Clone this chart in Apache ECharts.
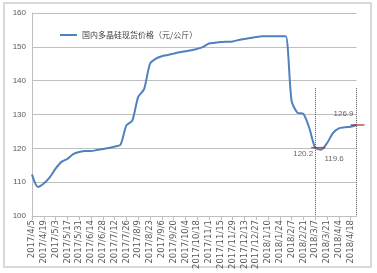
<!DOCTYPE html>
<html><head><meta charset="utf-8">
<script src="https://cdn.jsdelivr.net/npm/echarts@6/dist/echarts.min.js"></script>
<style>html,body{margin:0;padding:0;background:#fff}#c{width:377px;height:273px}</style>
</head><body><div id="c"></div>
<script>
// weekly dates 2017/4/5 .. 2018/4/25
const categories = ['2017/4/5','2017/4/12','2017/4/19','2017/4/26','2017/5/3','2017/5/10','2017/5/17','2017/5/24','2017/5/31','2017/6/7','2017/6/14','2017/6/21','2017/6/28','2017/7/5','2017/7/12','2017/7/19','2017/7/26','2017/8/2','2017/8/9','2017/8/16','2017/8/23','2017/8/30','2017/9/6','2017/9/13','2017/9/20','2017/9/27','2017/10/4','2017/10/11','2017/10/18','2017/10/25','2017/11/1','2017/11/8','2017/11/15','2017/11/22','2017/11/29','2017/12/6','2017/12/13','2017/12/20','2017/12/27','2018/1/3','2018/1/10','2018/1/17','2018/1/24','2018/1/31','2018/2/7','2018/2/14','2018/2/21','2018/2/28','2018/3/7','2018/3/14','2018/3/21','2018/3/28','2018/4/4','2018/4/11','2018/4/18','2018/4/25'];
const seriesName = '国内多晶硅现货价格（元/公斤）';
const prices = [112.3,108.6,109.6,111.4,114.0,116.0,116.9,118.3,118.9,119.2,119.2,119.5,119.8,120.1,120.5,121.1,126.8,128.2,135.2,137.5,145.0,146.5,147.2,147.6,148.0,148.4,148.7,149.0,149.4,150.0,151.0,151.2,151.4,151.5,151.6,152.0,152.3,152.6,152.9,153.1,153.1,153.1,153.1,153.1,134.0,130.5,130.2,126.0,120.2,119.6,121.5,124.5,125.9,126.2,126.4,126.9];
const yTicks = [100,110,120,130,140,150,160];
// annotations
const markCats = ['2018/3/7','2018/4/25'];
const markVals = [120.2,126.9];
const labelCats = ['2018/3/7','2018/3/14','2018/4/25'];
const labelVals = [120.2,119.6,126.9];
const dropTop = 137.8;

const numFont = 'Liberation Sans, Arial, sans-serif';
const chart = echarts.init(document.getElementById('c'), null, {renderer:'canvas'});
const labelOffsets = [[-12,6],[13,9],[-13,-11]];
const markOffsets = [[3,0],[1,0]];
chart.setOption({
  animation:false,
  backgroundColor:'#fff',
  graphic:[{type:'rect',shape:{x:4,y:3,width:367,height:264},style:{fill:'none',stroke:'#d9d9d9',lineWidth:2},z:-1}],
  grid:{left:32,right:20.5,top:13,bottom:57,outerBoundsMode:'none',containLabel:false},
  legend:{left:55,top:26,itemWidth:17,itemHeight:2,itemGap:2,icon:'rect',
    textStyle:{fontSize:8,color:'#404040',fontFamily:'Noto Sans CJK SC'},data:[seriesName]},
  xAxis:{type:'category',data:categories,boundaryGap:false,
    axisLine:{lineStyle:{color:'#bfbfbf'}},
    axisTick:{show:true,interval:1,length:4,lineStyle:{color:'#bfbfbf'}},
    axisLabel:{interval:1,rotate:90,fontSize:8.5,color:'#595959',margin:4,fontFamily:'DejaVu Sans',
      overflow:'none',hideOverlap:false},
    splitLine:{show:false}},
  yAxis:{type:'value',min:yTicks[0],max:yTicks[yTicks.length-1],interval:10,
    axisLine:{show:true,lineStyle:{color:'#bfbfbf'}},axisTick:{show:false},
    axisLabel:{fontSize:8,color:'#595959',margin:6,fontFamily:numFont},
    splitLine:{lineStyle:{color:'#bfbfbf',width:1}}},
  series:[
    {name:seriesName,type:'line',data:prices,smooth:0.25,showSymbol:false,
     lineStyle:{color:'#4f81bd',width:2},itemStyle:{color:'#4f81bd'},
     markLine:{silent:true,symbol:'none',label:{show:false},
       lineStyle:{color:'#595959',type:'dotted',width:1},
       data:markCats.map(c=>[{coord:[c,dropTop]},{coord:[c,yTicks[0]]}])}},
    {type:'scatter',data:markCats.map((c,i)=>({value:[c,markVals[i]],symbolOffset:markOffsets[i]})),
     symbol:'rect',symbolSize:[14,1.5],
     itemStyle:{color:'#b0252a'},z:5},
    {type:'scatter',data:labelCats.map((c,i)=>({value:[c,labelVals[i]],
        label:{show:true,formatter:String(labelVals[i]),position:'inside',offset:labelOffsets[i],
          fontSize:8,color:'#404040',fontFamily:numFont}})),
     symbolSize:0,z:6}
  ]
});
</script></body></html>
